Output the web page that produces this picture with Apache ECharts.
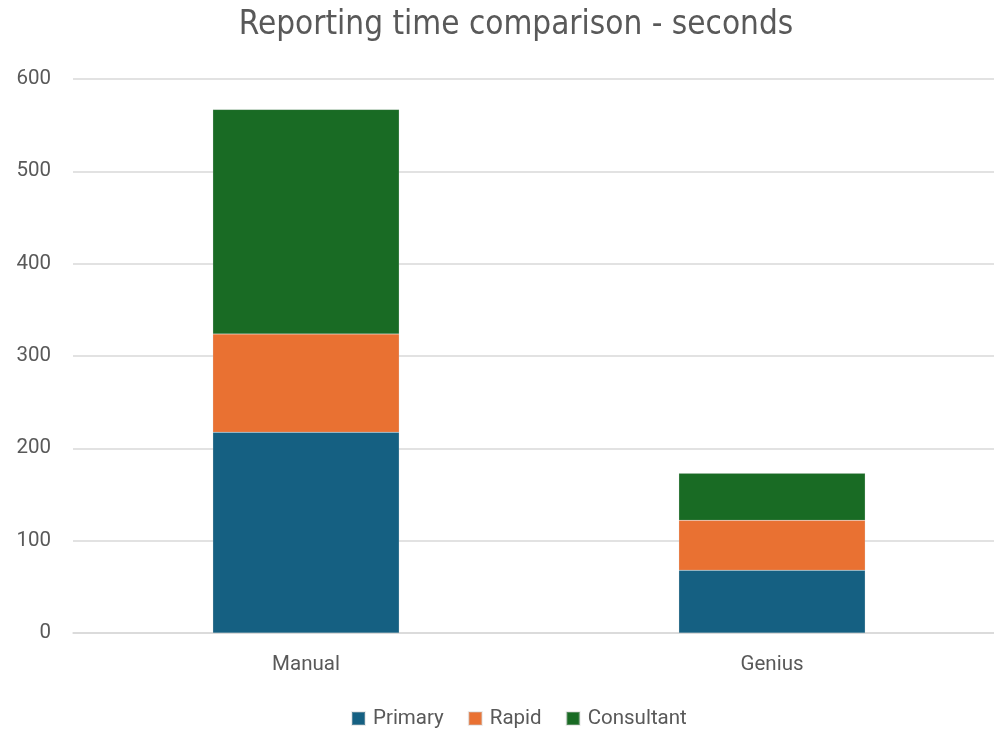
<!DOCTYPE html>
<html>
<head>
<meta charset="utf-8">
<script src="https://cdn.jsdelivr.net/npm/echarts@6/dist/echarts.min.js"></script>
<style>
  html, body { margin: 0; padding: 0; background: #fff; }
  #chart { width: 994px; height: 729px; }
</style>
</head>
<body>
<div id="chart"></div>
<script>
// Reporting time per workflow, in seconds
const categories = ['Manual', 'Genius'];
const primary = [217.5, 68];
const rapid = [106.4, 54];
const consultant = [243.2, 51];
const seriesNames = ['Primary', 'Rapid', 'Consultant'];
const seriesColors = ['#156082', '#E97132', '#196B24'];
const yTicks = { min: 0, max: 600, interval: 100 };

const textColor = '#595959';
const font = 'Roboto';

const chart = echarts.init(document.getElementById('chart'), null, { renderer: 'canvas' });

const values = [primary, rapid, consultant];
const series = seriesNames.map((name, i) => ({
  name,
  type: 'bar',
  stack: 'total',
  barWidth: '40%',
  data: values[i],
  itemStyle: { color: seriesColors[i], borderColor: 'rgba(200,200,200,0.35)', borderWidth: 0.5 }
}));

chart.setOption({
  animation: false,
  backgroundColor: '#ffffff',
  title: {
    text: 'Reporting time comparison - seconds',
    left: 511,
    textAlign: 'center',
    top: 4,
    textStyle: {
      fontFamily: '"DejaVu Sans Condensed", "Roboto Condensed", Roboto',
      fontWeight: 'normal', fontSize: 33, color: textColor
    }
  },
  legend: {
    top: 703,
    left: 346,
    itemWidth: 13,
    itemHeight: 13,
    itemGap: 24,
    icon: 'rect',
    textStyle: { fontFamily: font, fontSize: 20.5, color: textColor, padding: [0, 0, 0, 3] },
    data: seriesNames
  },
  grid: { left: 73, top: 79, width: 932, height: 554, containLabel: false, outerBoundsMode: 'none' },
  xAxis: {
    type: 'category',
    data: categories,
    axisLine: { lineStyle: { color: '#d9d9d9', width: 1.5 } },
    axisTick: { show: false },
    axisLabel: { fontFamily: font, fontSize: 20.5, color: textColor, margin: 21 }
  },
  yAxis: {
    type: 'value',
    min: yTicks.min,
    max: yTicks.max,
    interval: yTicks.interval,
    axisLine: { show: false },
    axisTick: { show: false },
    axisLabel: { fontFamily: font, fontSize: 20.5, color: textColor, margin: 22 },
    splitLine: { lineStyle: { color: '#d9d9d9', width: 1.5 } }
  },
  series
});
</script>
</body>
</html>
